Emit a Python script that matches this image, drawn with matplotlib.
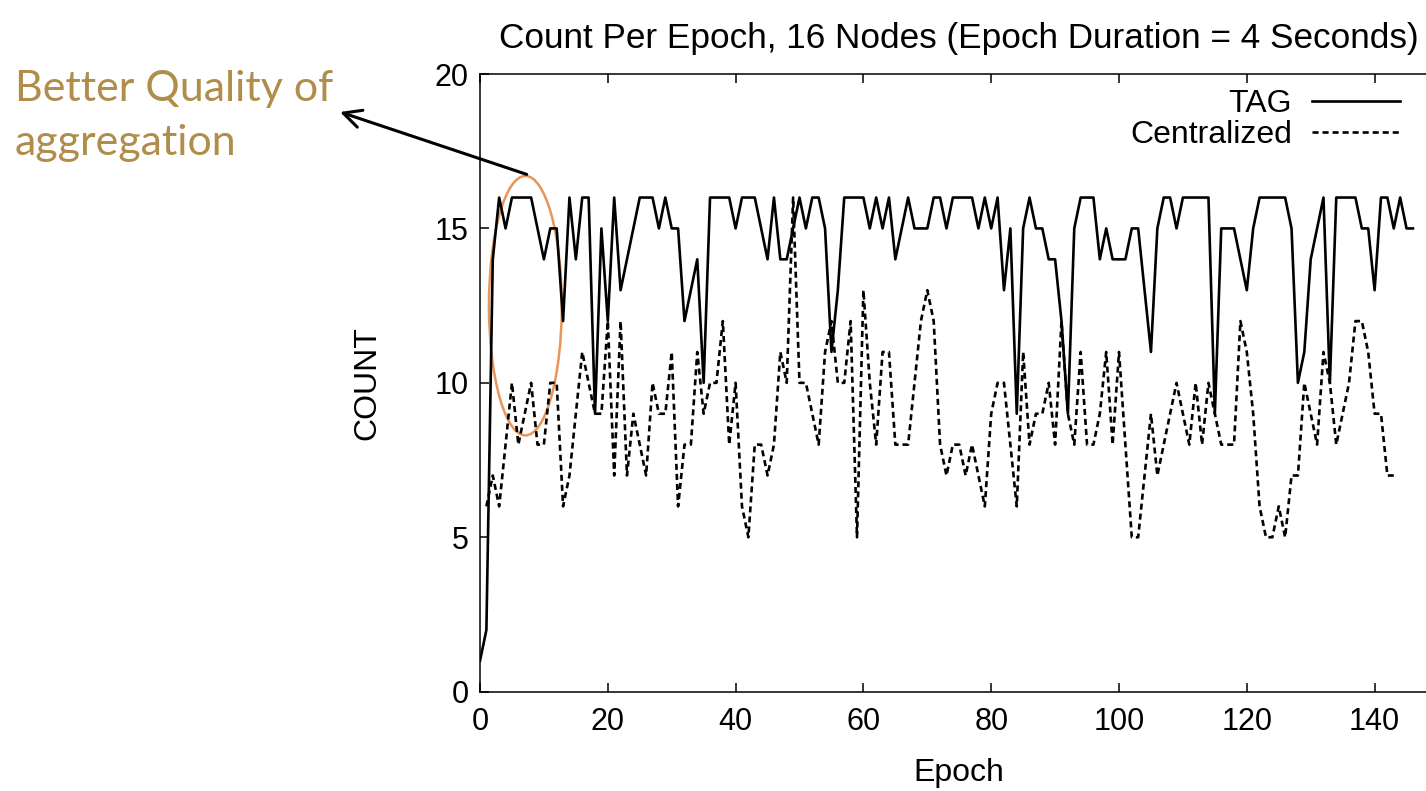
"""Count per epoch, TAG vs centralized."""
import matplotlib
matplotlib.use('Agg')
import matplotlib.pyplot as plt
from matplotlib.patches import Ellipse

plt.rcParams['font.family'] = ['Liberation Sans', 'DejaVu Sans']

# data
tag_epoch = list(range(0, 147))
tag_count = [1, 2, 14, 16, 15, 16, 16, 16, 16, 15,
             14, 15, 15, 12, 16, 14, 16, 16, 9, 15,
             12, 16, 13, 14, 15, 16, 16, 16, 15, 16,
             15, 15, 12, 13, 14, 10, 16, 16, 16, 16,
             15, 16, 16, 16, 15, 14, 16, 14, 14, 15,
             16, 15, 16, 16, 15, 11, 13, 16, 16, 16,
             16, 15, 16, 15, 16, 14, 15, 16, 15, 15,
             15, 16, 16, 15, 16, 16, 16, 16, 15, 16,
             15, 16, 13, 15, 9, 15, 16, 15, 15, 14,
             14, 12, 9, 15, 16, 16, 16, 14, 15, 14,
             14, 14, 15, 15, 13, 11, 15, 16, 16, 15,
             16, 16, 16, 16, 16, 9, 15, 15, 15, 14,
             13, 15, 16, 16, 16, 16, 16, 15, 10, 11,
             14, 15, 16, 10, 16, 16, 16, 16, 15, 15,
             13, 16, 16, 15, 16, 15, 15]

central_epoch = list(range(1, 144))
central_count = [6, 7, 6, 8, 10, 8, 9, 10, 8,
                 8, 10, 10, 6, 7, 9, 11, 10, 9, 9,
                 12, 7, 12, 7, 9, 8, 7, 10, 9, 9,
                 11, 6, 8, 8, 11, 9, 10, 10, 12, 8,
                 10, 6, 5, 8, 8, 7, 8, 11, 10, 16,
                 10, 10, 9, 8, 11, 12, 10, 10, 12, 5,
                 13, 10, 8, 11, 11, 8, 8, 8, 10, 12,
                 13, 12, 8, 7, 8, 8, 7, 8, 7, 6,
                 9, 10, 10, 8, 6, 11, 8, 9, 9, 10,
                 8, 12, 9, 8, 11, 8, 8, 9, 11, 8,
                 11, 8, 5, 5, 7, 9, 7, 8, 9, 10,
                 9, 8, 10, 8, 10, 9, 8, 8, 8, 12,
                 11, 9, 6, 5, 5, 6, 5, 7, 7, 10,
                 9, 8, 11, 10, 8, 9, 10, 12, 12, 11,
                 9, 9, 7, 7]

W, H = 1426, 791
fig = plt.figure(figsize=(W / 100, H / 100), dpi=100)
# axes runs past the right edge of the picture, like the cropped original
ax = fig.add_axes([480 / W, (H - 691.7) / H, 958.5 / W, 617.7 / H])

ax.plot(tag_epoch, tag_count, color='black', lw=1.9, label='TAG')
ax.plot(central_epoch, central_count, color='black', lw=1.9,
        dashes=(2.3, 1.5), label='Centralized')

ax.set_xlim(0, 150)
ax.set_ylim(0, 20)
ax.set_xticks(range(0, 141, 20))
ax.set_yticks(range(0, 21, 5))
ax.tick_params(direction='in', length=6.5, width=1.1, labelsize=22,
               top=True, right=True)
ax.tick_params(axis='x', pad=11)
ax.tick_params(axis='y', pad=8)
for s in ax.spines.values():
    s.set_linewidth(1.1)

ax.set_title('Count Per Epoch, 16 Nodes (Epoch Duration = 4 Seconds)',
             fontsize=25.3, pad=19)
ax.set_xlabel('Epoch', fontsize=23)
ax.set_ylabel('COUNT', fontsize=23)
ax.xaxis.set_label_coords(0.5, -0.107)
ax.yaxis.set_label_coords(-0.102, 0.5)

ax.legend(loc='upper right', bbox_to_anchor=(0.96, 0.975), frameon=False,
          markerfirst=False, handlelength=2.76, handletextpad=0.63,
          labelspacing=0.02, borderpad=0, borderaxespad=0, fontsize=23)

# annotation: ellipse round the start, arrow and note
ax.add_patch(Ellipse((7.1, 12.5), 11.4, 8.4, fill=False,
                     edgecolor='#E8955A', lw=1.8, clip_on=False))
ax.annotate('', xy=(340 / W, 1 - 112 / H), xycoords='figure fraction',
            xytext=(7.3, 16.75), textcoords='data',
            arrowprops=dict(arrowstyle='->', color='black', lw=2.2,
                            mutation_scale=32, shrinkA=0, shrinkB=0))
note_color = '#B08D4A'
fig.text(15 / W, 1 - 101 / H, 'Better Quality of', color=note_color,
         fontsize=31, family='Lato', va='baseline')
fig.text(15 / W, 1 - 155 / H, 'aggregation', color=note_color,
         fontsize=31, family='Lato', va='baseline')

fig.savefig('out.png', dpi=100)
